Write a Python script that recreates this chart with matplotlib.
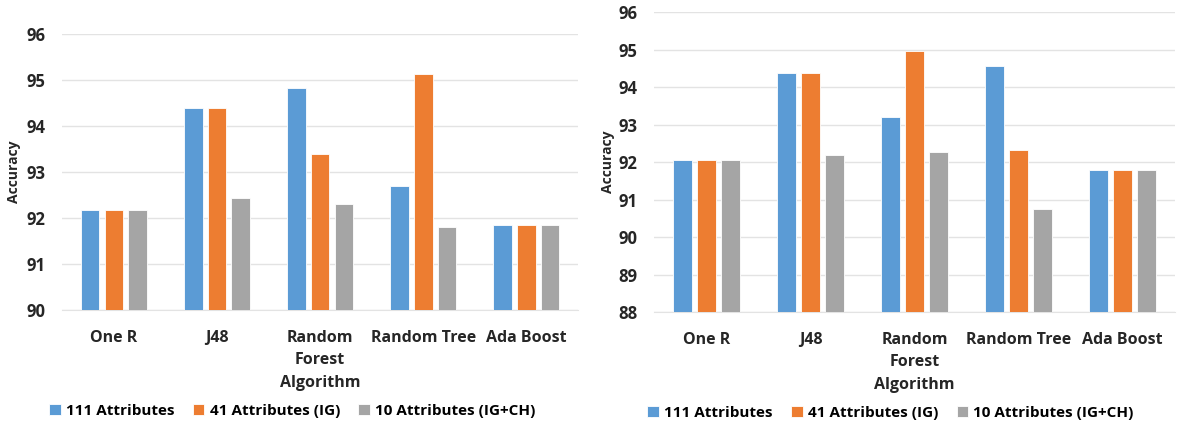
import matplotlib.pyplot as plt
import numpy as np

plt.rcParams['font.family'] = ['Open Sans', 'DejaVu Sans']
plt.rcParams['font.weight'] = 'bold'

algorithms = ['One R', 'J48', 'Random\nForest', 'Random Tree', 'Ada Boost']
series = ['111 Attributes', '41 Attributes (IG)', '10 Attributes (IG+CH)']
colors = ['#5B9BD5', '#ED7D31', '#A5A5A5']

# accuracy for each feature set, first experiment
left_111 = [92.17, 94.38, 94.83, 92.70, 91.84]
left_41 = [92.17, 94.38, 93.38, 95.12, 91.84]
left_10 = [92.17, 92.43, 92.30, 91.80, 91.84]

# second experiment
right_111 = [92.06, 94.37, 93.20, 94.58, 91.80]
right_41 = [92.06, 94.37, 94.97, 92.33, 91.80]
right_10 = [92.06, 92.20, 92.28, 90.75, 91.80]

fig = plt.figure(figsize=(11.77, 4.23), dpi=100)
ax1 = fig.add_axes([0.053, 0.267, 0.438, 0.653])
ax2 = fig.add_axes([0.556, 0.262, 0.442, 0.709])

TXT = '#262626'


def draw(ax, data, ymin, ymax, ypad):
    x = np.arange(len(algorithms))
    w = 0.18
    offsets = [-0.23, 0, 0.23]
    for vals, off, c, lab in zip(data, offsets, colors, series):
        ax.bar(x + off, np.array(vals) - ymin, w, bottom=ymin, color=c, label=lab,
               edgecolor='white', linewidth=0.6, zorder=3)
    ax.set_ylim(ymin, ymax)
    ax.set_xlim(-0.5, len(algorithms) - 0.5)
    ax.set_yticks(range(ymin, ymax + 1))
    ax.set_xticks(x)
    ax.set_xticklabels(algorithms, fontsize=11.5, fontweight='bold', color=TXT,
                       linespacing=1.5)
    ax.tick_params(axis='y', labelsize=12, length=0, pad=ypad, labelcolor=TXT)
    ax.tick_params(axis='x', length=0, pad=14)
    ax.grid(axis='y', color='#e3e3e3', linewidth=1, zorder=0)
    for s in ['top', 'right', 'left']:
        ax.spines[s].set_visible(False)
    ax.spines['bottom'].set_color('#e3e3e3')
    ax.set_ylabel('Accuracy', fontsize=10, fontweight='bold', color=TXT)
    ax.set_xlabel('Algorithm', fontsize=11.5, fontweight='bold', color=TXT)


draw(ax1, [left_111, left_41, left_10], 90, 96, 12)
draw(ax2, [right_111, right_41, right_10], 88, 96, 12)

ax1.yaxis.set_label_coords(-0.08, 0.5)
ax2.yaxis.set_label_coords(-0.075, 0.5)
ax1.xaxis.set_label_coords(0.5, -0.235)
ax2.xaxis.set_label_coords(0.5, -0.215)

leg_kw = dict(loc='center', ncol=3, frameon=False, fontsize=11,
              handlelength=0.75, handleheight=0.75, handletextpad=0.35,
              columnspacing=1.2)
ax1.legend(bbox_to_anchor=(0.446, -0.365), **leg_kw)
ax2.legend(bbox_to_anchor=(0.454, -0.335), **leg_kw)

fig.savefig('out.png', dpi=100)
